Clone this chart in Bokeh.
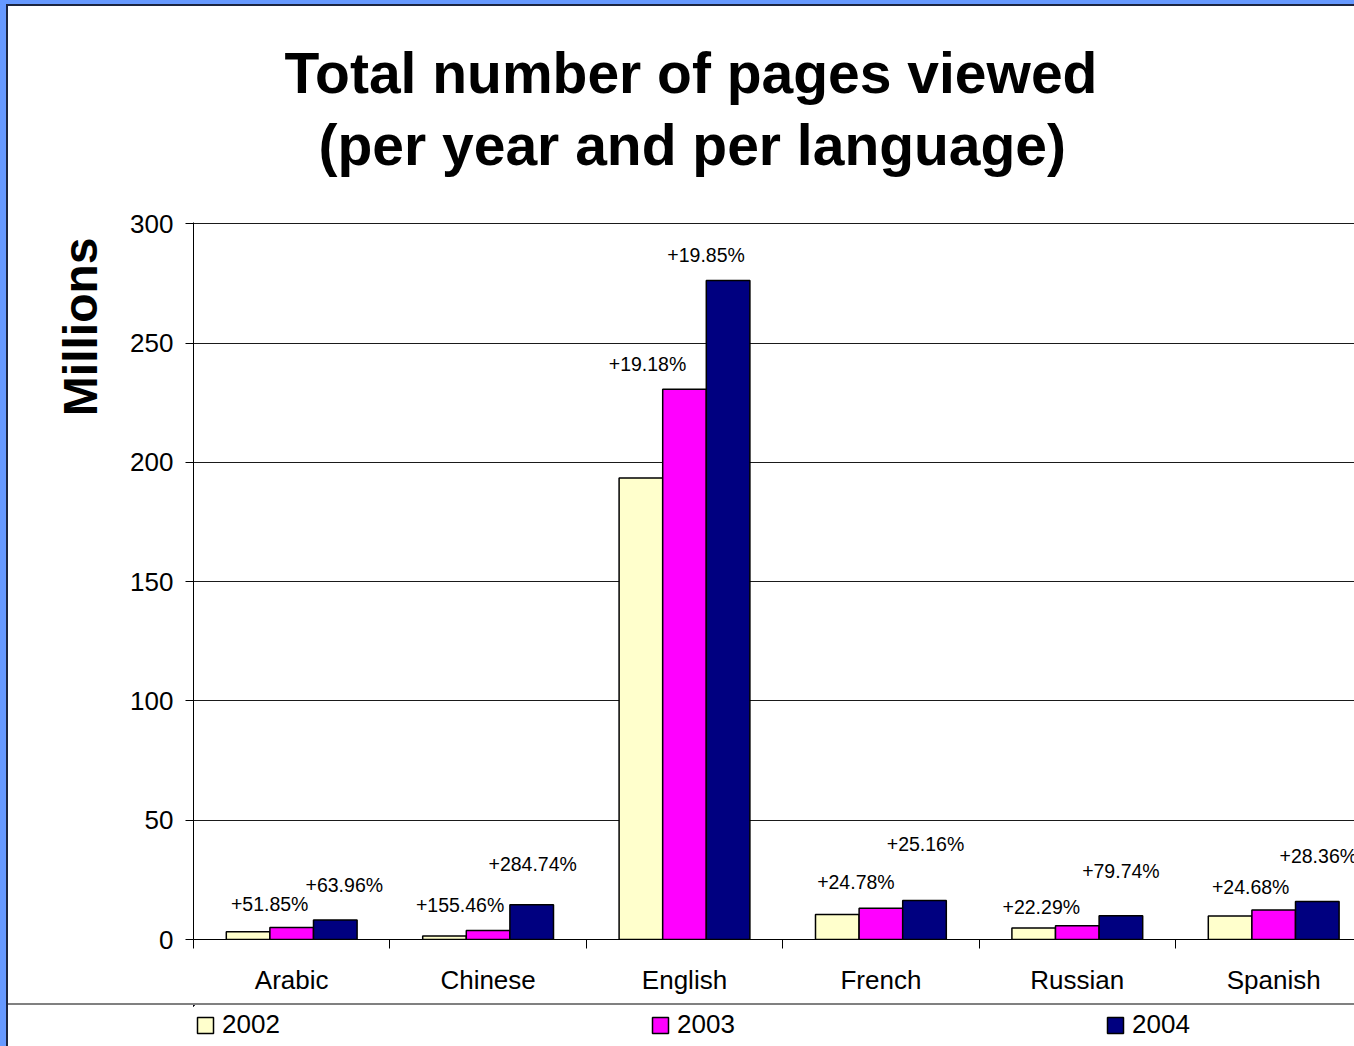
import numpy as np
from bokeh.plotting import figure
from bokeh.models import (ColumnDataSource, Range1d, FixedTicker, Title, Legend,
                          LegendItem, Div)
from bokeh.layouts import column, row
from bokeh.core.properties import value
from bokeh.embed import file_html
from bokeh.resources import INLINE

# ---------------- data ----------------
languages = ["Arabic", "Chinese", "English", "French", "Russian", "Spanish"]
years = ["2002", "2003", "2004"]
views_2002 = [3.3, 1.5, 193.5, 10.5, 4.8, 9.8]
views_2003 = [5.0, 3.8, 230.7, 13.1, 5.8, 12.4]
views_2004 = [8.2, 14.6, 276.3, 16.4, 10.0, 15.9]
growth_2003 = ["+51.85%", "+155.46%", "+19.18%", "+24.78%", "+22.29%", "+24.68%"]
growth_2004 = ["+63.96%", "+284.74%", "+19.85%", "+25.16%", "+79.74%", "+28.36%"]
y_ticks = [0, 50, 100, 150, 200, 250, 300]

# ---------------- style / placement ----------------
colors = ["#FFFFCC", "#FF00FF", "#000080"]
FONT = "Liberation Sans"
BLUE = "#6699FF"
DARK = "#1c2540"
BAR_W = 0.222
# label offsets in pixels relative to the top centre of the bar
lbl03_dx = [-22, -28, -37, -25, -36, -23]
lbl03_dy = [-24, -25, -25, -26, -19, -23]
lbl04_dx = [9, 1, -22, 1, 0, 1]
lbl04_dy = [-35, -41, -25, -56, -45, -46]

n = len(languages)
centers = np.arange(n) + 0.5
PW = 1346          # width of the chart area (inside the slide frame)

# ---------------- title strip ----------------
p0 = figure(width=PW, height=200, x_range=Range1d(0, 1), y_range=Range1d(0, 1),
            output_backend="svg", toolbar_location=None, title_location=None,
            x_axis_location=None, y_axis_location=None, min_border_left=185,
            min_border_right=0, min_border_top=172, min_border_bottom=0,
            outline_line_color=None, background_fill_color="white",
            border_fill_color="white")
p0.grid.visible = False
t2 = Title(text="(per year and per language)", align="left", offset=125,
           text_font=FONT, text_font_size="57px", text_font_style="bold",
           text_color="black", standoff=4)
t1 = Title(text="Total number of pages viewed", align="left", offset=91,
           text_font=FONT, text_font_size="57px", text_font_style="bold",
           text_color="black", standoff=8)
p0.add_layout(t2, "above")
p0.add_layout(t1, "above")

# ---------------- main chart ----------------
p = figure(width=PW, height=797,
           x_range=Range1d(0, 1161 / 196.4), y_range=Range1d(0, 300.6),
           output_backend="svg", toolbar_location=None, title_location=None,
           min_border_left=185, min_border_right=0, min_border_top=16,
           min_border_bottom=64, outline_line_color=None,
           background_fill_color="white", border_fill_color="white")

series = [views_2002, views_2003, views_2004]
sources = []
for k, (vals, col) in enumerate(zip(series, colors)):
    src = ColumnDataSource(dict(x=centers + (k - 1) * BAR_W, top=vals))
    sources.append(src)
    p.vbar(x="x", top="top", width=BAR_W, source=src, fill_color=col,
           line_color="black", line_width=1.5)

for k, (vals, txt, dx, dy) in enumerate([(views_2003, growth_2003, lbl03_dx, lbl03_dy),
                                         (views_2004, growth_2004, lbl04_dx, lbl04_dy)]):
    src = ColumnDataSource(dict(x=centers + k * BAR_W, y=vals, text=txt, dx=dx, dy=dy))
    p.text(x="x", y="y", text="text", x_offset="dx", y_offset="dy", source=src,
           text_align="center", text_baseline="middle", text_font=value(FONT),
           text_font_size="19.5px", text_color="black")

xa = p.xaxis[0]
xa.ticker = FixedTicker(ticks=list(centers), minor_ticks=list(range(n + 1)))
xa.major_label_overrides = {float(c): lang for c, lang in zip(centers, languages)}
xa.major_tick_out = 0
xa.major_tick_in = 0
xa.minor_tick_out = 9
xa.minor_tick_in = 0
xa.minor_tick_line_color = "black"
xa.axis_line_color = "black"
xa.major_label_text_font = FONT
xa.major_label_text_font_size = "26px"
xa.major_label_text_color = "black"
xa.major_label_standoff = 16

ya = p.yaxis[0]
ya.ticker = FixedTicker(ticks=y_ticks)
ya.major_tick_out = 8
ya.major_tick_in = 0
ya.minor_tick_line_color = None
ya.axis_line_color = "black"
ya.major_label_text_font = FONT
ya.major_label_text_font_size = "26px"
ya.major_label_text_color = "black"
ya.major_label_standoff = 12

p.xgrid.visible = False
p.ygrid.grid_line_color = "#1a1a1a"
p.ygrid.grid_line_width = 1

tm = Title(text="Millions", align="right", offset=15, text_font=FONT,
           text_font_size="48px", text_font_style="bold", text_color="black",
           standoff=41)
p.add_layout(tm, "left")

# ---------------- legend strip ----------------
p2 = figure(width=PW, height=41, x_range=Range1d(100, 101), y_range=Range1d(-2, -1),
            output_backend="svg", toolbar_location=None, title_location=None,
            x_axis_location=None, y_axis_location=None, min_border=0,
            min_border_left=185, outline_line_color=None,
            background_fill_color="white", border_fill_color="white")
p2.grid.visible = False
legend_rs = [p2.vbar(x="x", top="top", width=BAR_W, source=src, fill_color=col,
                     line_color="black", line_width=1.5)
             for src, col in zip(sources, colors)]
legend = Legend(items=[LegendItem(label=y, renderers=[r]) for y, r in zip(years, legend_rs)],
                orientation="horizontal", location=(2, 6), padding=0, margin=0,
                spacing=0, glyph_width=20, glyph_height=20, label_standoff=7,
                label_width=428, label_text_font=FONT, label_text_font_size="26px",
                label_text_color="black",
                border_line_color=None, background_fill_alpha=0)
p2.add_layout(legend, "center")


def block(w, h, color):
    return Div(width=w, height=h, margin=0, styles={"background-color": color})


sep = block(PW, 2, "#808080")
chart = column(p0, p, sep, p2, spacing=0)

layout = column(
    block(1354, 4, BLUE),
    row(block(6, 2, BLUE), block(1348, 2, DARK), spacing=0),
    row(block(6, 1040, BLUE), block(2, 1040, DARK), chart, spacing=0),
    spacing=0)

open("out.html", "w").write(file_html(layout, INLINE))
